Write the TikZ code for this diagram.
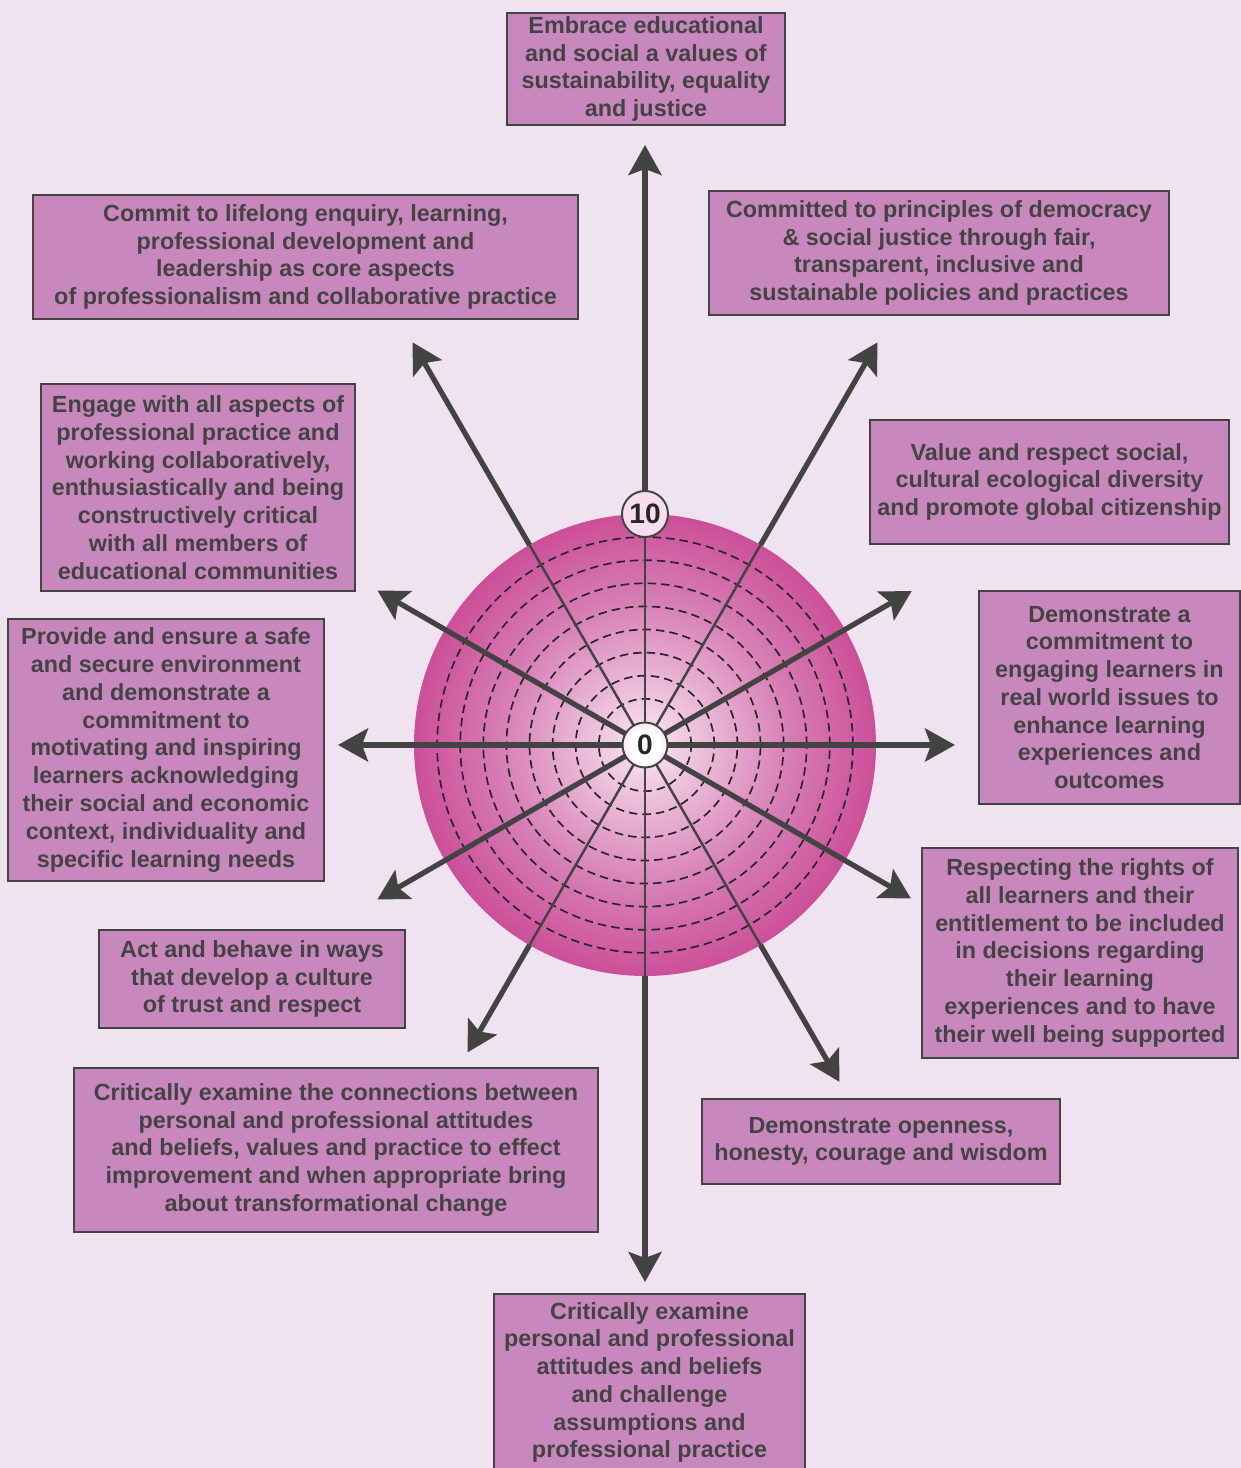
\documentclass[tikz,border=0pt]{standalone}
\usepackage{fontspec}
\setmainfont{Liberation Sans}
\usetikzlibrary{calc,arrows.meta}

\definecolor{bgcol}{HTML}{EEE3EE}
\definecolor{boxcol}{HTML}{C988BD}
\definecolor{inkcol}{HTML}{434343}
\definecolor{discedge}{HTML}{C2227D}
\definecolor{discmid}{HTML}{D67CB4}
\definecolor{disclight}{HTML}{F3D3E7}
\definecolor{hubedge}{HTML}{F0D0E4}
\definecolor{tencol}{HTML}{F6DEEE}

\pgfdeclareradialshading{discshade}{\pgfpointorigin}{color(0bp)=(white); color(3bp)=(disclight); color(16bp)=(discmid); color(34bp)=(discedge); color(50bp)=(discedge)}
\pgfdeclareradialshading{hubshade}{\pgfpointorigin}{color(0bp)=(white); color(16bp)=(white); color(35bp)=(hubedge); color(50bp)=(hubedge)}

\begin{document}
\begin{tikzpicture}[x=0.02cm,y=0.02cm,
    goal/.style 2 args={draw=inkcol,line width=1.1pt,fill=boxcol,text=inkcol,
      font=\fontsize{13.3}{15.8}\selectfont\bfseries,align=center,inner sep=0pt,
      minimum width=#1*0.02cm,minimum height=#2*0.02cm},
    level/.style={circle,draw=inkcol,line width=1.1pt,inner sep=0pt,
      font=\fontsize{16}{16}\selectfont\bfseries,text=black!85},
    spoke/.style={draw=inkcol,line width=1.4pt},
    ray/.style={draw=inkcol,line width=3pt,-{Stealth[length=0.6cm,width=0.66cm,inset=0.12cm]}},
    ring/.style={draw=black!85,line width=0.95pt,dash pattern=on 0.17cm off 0.1cm}]
  \useasboundingbox[fill=bgcol] (0,0) rectangle (1241,1468);

  % disc with the ten levels
  \coordinate (O) at (645,723);
  \shade[shading=discshade] (O) circle (231);
  \foreach \k in {2,...,9}
    \draw[ring] (O) circle ({\k*23.1});

  % arrow ends
  \foreach \a/\l in {90/600,60/465,30/308,0/310,330/307,300/389,270/537,
                     240/355,210/309,180/307,150/309,120/465}
    \coordinate (t\a) at ($(O)+(\a:\l)$);

  \foreach \a in {0,30,...,330}
    \draw[spoke] (O) -- ($(O)+(\a:231)$);
  \foreach \a/\s in {0/0,30/0,150/0,180/0,210/0,330/0,
                     60/231,90/254,120/231,240/231,270/231,300/231}
    \draw[ray] ($(O)+(\a:\s)$) -- (t\a);

  \node[level,shading=hubshade,minimum size=0.9cm] (zero) at (O) {0};
  \node[level,fill=tencol,minimum size=0.92cm] (ten) at ($(O)+(90:231)$) {10};

  % the goals
  \node[goal={278}{112}] (A) at (646,1399) {Embrace educational\\and social a values of\\sustainability, equality\\and justice};
  \node[goal={545}{124}] (B) at (305.5,1211) {Commit to lifelong enquiry, learning,\\professional development and\\leadership as core aspects\\of professionalism and collaborative practice};
  \node[goal={460}{124}] (C) at (939,1215) {Committed to principles of democracy\\\& social justice through fair,\\transparent, inclusive and\\sustainable policies and practices};
  \node[goal={314}{207}] (D) at (198,980.5) {Engage with all aspects of\\professional practice and\\working collaboratively,\\enthusiastically and being\\constructively  critical\\with all members of\\educational communities};
  \node[goal={359}{124}] (E) at (1049.5,986) {Value and respect social,\\cultural ecological diversity\\and promote global citizenship};
  \node[goal={316}{262}] (F) at (166,718) {Provide and ensure a safe\\and secure environment\\and demonstrate  a\\commitment to\\motivating  and inspiring\\learners acknowledging\\their social and economic\\context, individuality and\\specific learning needs};
  \node[goal={261}{213}] (G) at (1109.5,770.5) {Demonstrate a\\commitment to\\engaging learners in\\real world  issues to\\enhance learning\\experiences and\\outcomes};
  \node[goal={316}{210}] (H) at (1080,515) {Respecting the rights of\\all learners and their\\entitlement to be included\\in decisions regarding\\their  learning\\experiences and to have\\their well being supported};
  \node[goal={306}{98}] (I) at (252,489) {Act and behave in ways\\that develop a culture\\of trust and respect};
  \node[goal={524}{164}] (J) at (336,318) {Critically examine the connections between\\personal and professional attitudes\\and beliefs, values and practice to effect\\improvement and when appropriate bring\\about transformational change};
  \node[goal={358}{85}] (K) at (881,326.5) {Demonstrate openness,\\honesty, courage and wisdom};
  \node[goal={311}{177}] (L) at (649.5,85.5) {Critically examine\\personal and professional\\attitudes and beliefs\\and challenge\\assumptions and\\professional practice};
\end{tikzpicture}
\end{document}
